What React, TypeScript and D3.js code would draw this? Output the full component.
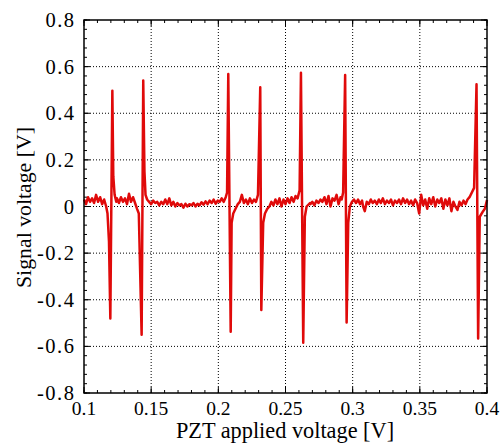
import React from "react";
import * as d3 from "d3";

const xTicks = [0.1, 0.15, 0.2, 0.25, 0.3, 0.35, 0.4];
const yTicks = [-0.8, -0.6, -0.4, -0.2, 0, 0.2, 0.4, 0.6, 0.8];
const xLabel = "PZT applied voltage [V]";
const yLabel = "Signal voltage [V]";

// PZT voltage (V)
const pztVoltage = [
  0.1, 0.1015, 0.103, 0.1045, 0.106, 0.1075, 0.109, 0.1105, 0.112, 0.1135, 0.115, 0.1165, 0.1175,
  0.1186, 0.1196, 0.1211, 0.1218, 0.1228, 0.124,
  0.1245, 0.126, 0.1275, 0.129, 0.1305, 0.132, 0.1335, 0.135, 0.1365, 0.138, 0.1395, 0.1408,
  0.1429, 0.1441, 0.145, 0.1458, 0.147,
  0.1485, 0.15, 0.1515, 0.153, 0.1545, 0.156, 0.1575, 0.159, 0.1605, 0.162, 0.1635, 0.165, 0.1665,
  0.168, 0.1695, 0.171, 0.1725, 0.174, 0.1755, 0.177, 0.1785, 0.18, 0.1815, 0.183, 0.1845, 0.186,
  0.1875, 0.189, 0.1905, 0.192, 0.1935, 0.195, 0.1965, 0.198, 0.1995, 0.201, 0.2025, 0.204, 0.2055,
  0.2065,
  0.2074, 0.2092, 0.2099, 0.2111, 0.2136,
  0.2145, 0.216, 0.2175, 0.219, 0.2205, 0.222, 0.2235, 0.225, 0.2265, 0.228, 0.2295,
  0.2312, 0.232, 0.2334, 0.2347, 0.2364,
  0.238, 0.2395, 0.241, 0.2425, 0.244, 0.2455, 0.247, 0.2485, 0.25, 0.2515, 0.253, 0.2545, 0.256,
  0.2575, 0.259, 0.2605,
  0.2615, 0.2632, 0.2644, 0.2657, 0.2682,
  0.2685, 0.27, 0.2715, 0.273, 0.2745, 0.276, 0.2775, 0.279, 0.2805, 0.282, 0.2835, 0.285, 0.2865,
  0.288, 0.2895, 0.291, 0.2918,
  0.2929, 0.2944, 0.2955, 0.2967, 0.2979,
  0.2995, 0.301, 0.3025, 0.304, 0.3055, 0.307, 0.3078, 0.309, 0.3105, 0.312, 0.3135, 0.315, 0.3165,
  0.318, 0.3195, 0.321, 0.3225, 0.324, 0.3255, 0.327, 0.3285, 0.33, 0.3315, 0.333, 0.3345, 0.336,
  0.3375, 0.339, 0.3405, 0.342, 0.3435, 0.345, 0.3465, 0.348, 0.3495, 0.351, 0.3525, 0.354, 0.3555,
  0.357, 0.3585, 0.36, 0.3615, 0.363, 0.3645, 0.366, 0.3675, 0.369, 0.3705, 0.372, 0.3735, 0.375,
  0.3765, 0.378, 0.3795, 0.381, 0.3825, 0.384, 0.3855, 0.387,
  0.3904, 0.3922, 0.3934, 0.3946, 0.3971, 0.3984, 0.4,
];

// Signal voltage (V)
const signalVoltage = [
  0.03, 0.01, 0.04, 0.02, 0.035, 0.015, 0.05, 0.02, 0.04, 0.01, 0.03, 0.0, -0.03,
  -0.15, -0.48, 0.497, 0.13, 0.05, 0.02,
  0.035, 0.015, 0.04, 0.02, 0.035, 0.01, 0.055, 0.02, 0.04, 0.015, -0.01, -0.03,
  -0.55, 0.54, 0.15, 0.05, 0.03,
  0.02, 0.01, 0.025, 0.015, 0.02, 0.005, 0.02, 0.01, 0.03, 0.01, 0.035, 0.005, 0.02,
  0.0, 0.015, 0.005, 0.01, -0.005, 0.012, 0.0, 0.01, 0.005, 0.015, 0.0, 0.012, 0.005,
  0.018, 0.008, 0.022, 0.01, 0.025, 0.015, 0.03, 0.012, 0.025, 0.02, 0.035, 0.02, 0.04,
  0.06,
  0.568, -0.537, -0.07, -0.03, 0.0,
  0.01, 0.02, 0.05, 0.015, 0.03, 0.01, 0.035, 0.015, 0.03, 0.02, 0.05,
  0.511, -0.444, -0.07, -0.03, -0.01,
  0.0, 0.02, 0.005, 0.03, 0.01, 0.035, 0.0, 0.03, 0.01, 0.035, 0.015, 0.04, 0.02,
  0.045, 0.035, 0.07,
  0.574, -0.584, -0.044, 0.0, 0.015,
  0.01, 0.02, 0.005, 0.025, 0.015, 0.03, 0.02, 0.04, 0.01, 0.045, 0.0, 0.035, 0.025, 0.05,
  0.01, 0.04, 0.03, 0.06,
  0.564, -0.498, -0.07, 0.0, 0.02,
  0.03, 0.015, 0.03, 0.01, 0.025, 0.0, -0.02, 0.02, 0.01, 0.03, 0.015, 0.025, 0.01,
  0.03, 0.015, 0.035, 0.01, 0.025, 0.015, 0.03, 0.005, 0.025, 0.015, 0.03, 0.01, 0.035,
  0.015, 0.03, 0.01, 0.025, 0.005, 0.03, 0.015, -0.03, 0.05, 0.005, 0.03, -0.01, 0.035,
  0.01, 0.04, 0.0, 0.03, 0.015, 0.035, -0.01, 0.03, 0.005, 0.035, -0.02, 0.02, 0.0,
  -0.015, 0.02, 0.005, 0.025, 0.01, 0.03, 0.04, 0.08,
  0.524, -0.566, -0.044, -0.02, -0.01, 0.028, 0.0,
];

const W = 500;
const H = 445;
const M = { left: 84, right: 13, top: 20, bottom: 52 };
const FONT = "Liberation Serif";

export default function App() {
  const x = d3.scaleLinear().domain([0.1, 0.4]).range([M.left, W - M.right]);
  const y = d3.scaleLinear().domain([-0.8, 0.8]).range([H - M.bottom, M.top]);
  const [x0, x1] = x.range();
  const [y0, y1] = y.range();

  const data = pztVoltage.map((v, i) => [v, signalVoltage[i]] as [number, number]);
  const line = d3
    .line<[number, number]>()
    .x((d) => x(d[0]))
    .y((d) => y(d[1]));

  const xMinor = d3.range(0.1, 0.4001, 0.01);
  const yMinor = d3.range(-0.8, 0.8001, 0.04);
  const majLen = 6;
  const minLen = 3;
  const ts = { fontFamily: FONT };
  const ySpacing = 1.5;

  return (
    <svg
      width={W}
      height={H}
      style={{ position: "absolute", left: 0, top: 0, background: "#fff", fontFamily: FONT }}
    >
      <rect x={0} y={0} width={W} height={H} fill="#fff" />
      {/* grid */}
      <g stroke="#000" strokeWidth={1} strokeDasharray="1,2">
        {xTicks.slice(1, -1).map((t) => (
          <line key={"gx" + t} x1={x(t)} x2={x(t)} y1={y1} y2={y0} />
        ))}
        {yTicks.slice(1, -1).map((t) => (
          <line key={"gy" + t} x1={x0} x2={x1} y1={y(t)} y2={y(t)} />
        ))}
      </g>
      {/* ticks */}
      <g stroke="#000" strokeWidth={1}>
        {xMinor.map((t, i) => (
          <g key={"mx" + i}>
            <line x1={x(t)} x2={x(t)} y1={y0} y2={y0 - minLen} />
            <line x1={x(t)} x2={x(t)} y1={y1} y2={y1 + minLen} />
          </g>
        ))}
        {yMinor.map((t, i) => (
          <g key={"my" + i}>
            <line x1={x0} x2={x0 + minLen} y1={y(t)} y2={y(t)} />
            <line x1={x1} x2={x1 - minLen} y1={y(t)} y2={y(t)} />
          </g>
        ))}
        {xTicks.map((t) => (
          <g key={"tx" + t}>
            <line x1={x(t)} x2={x(t)} y1={y0} y2={y0 - majLen} />
            <line x1={x(t)} x2={x(t)} y1={y1} y2={y1 + majLen} />
          </g>
        ))}
        {yTicks.map((t) => (
          <g key={"ty" + t}>
            <line x1={x0} x2={x0 + majLen} y1={y(t)} y2={y(t)} />
            <line x1={x1} x2={x1 - majLen} y1={y(t)} y2={y(t)} />
          </g>
        ))}
      </g>
      {/* data */}
      <path d={line(data) || ""} fill="none" stroke="#e00a0a" strokeWidth={2.5} strokeLinejoin="round" />
      {/* frame */}
      <rect x={x0} y={y1} width={x1 - x0} height={y0 - y1} fill="none" stroke="#000" strokeWidth={1.5} />
      {/* tick labels */}
      <g fill="#000">
        {xTicks.map((t) => (
          <text key={"lx" + t} x={x(t)} y={y0 + 22} textAnchor="middle" fontSize={19.5} style={ts}>
            {d3.format("")(t)}
          </text>
        ))}
        {yTicks.map((t) => (
          <text
            key={"ly" + t}
            x={x0 - 10 + ySpacing}
            y={y(t) + 7}
            textAnchor="end"
            fontSize={20.5}
            style={{ ...ts, letterSpacing: ySpacing }}
          >
            {t === 0 ? "0" : (t < 0 ? "-" : "") + Math.abs(t).toFixed(1)}
          </text>
        ))}
      </g>
      <text x={(x0 + x1) / 2 - 0.5} y={438} textAnchor="middle" fontSize={22.3} fill="#000" style={ts}>
        {xLabel}
      </text>
      <text
        transform={`translate(31, 207.5) rotate(-90)`}
        textAnchor="middle"
        fontSize={21.8}
        fill="#000"
        style={ts}
      >
        {yLabel}
      </text>
    </svg>
  );
}
